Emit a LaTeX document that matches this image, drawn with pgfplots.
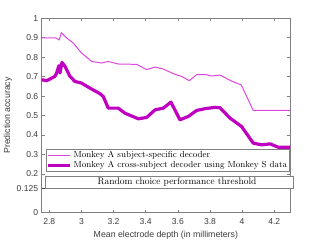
\documentclass[border=0pt]{standalone}
\usepackage{fontspec}
\setsansfont{Liberation Sans}
\usepackage{pgfplots}
\pgfplotsset{compat=1.18}
\definecolor{thinc}{RGB}{222,70,222}
\definecolor{thickc}{RGB}{192,0,192}
\definecolor{axgray}{RGB}{128,128,128}
\definecolor{txtgray}{RGB}{60,60,60}
\begin{document}
\begin{tikzpicture}
\begin{axis}[
  name=ax,
  scale only axis,
  width=248.3bp, height=194.4bp,
  xmin=2.753, xmax=4.298,
  ymin=0, ymax=1,
  xtick={2.8,3,3.2,3.4,3.6,3.8,4,4.2},
  xticklabels={2.8,3,3.2,3.4,3.6,3.8,4,4.2},
  ytick={0,0.125,0.2,0.3,0.4,0.5,0.6,0.7,0.8,0.9,1},
  yticklabels={0,0.125,0.2,0.3,0.4,0.5,0.6,0.7,0.8,0.9,1},
  tick align=inside,
  major tick length=3bp,
  axis line style={axgray, line width=0.6bp},
  every tick/.style={axgray, line width=0.5bp},
  tick label style={font=\sffamily\fontsize{8.6}{9}\selectfont, text=txtgray},
  xticklabel style={yshift=-2bp},
  /pgf/number format/assume math mode=true,
  xlabel={Mean electrode depth (in millimeters)},
  ylabel={Prediction accuracy},
  label style={font=\sffamily\fontsize{8.8}{10}\selectfont, text=txtgray},
  xlabel style={yshift=0bp},
  ylabel style={yshift=-2bp},
  legend style={at={(rel axis cs:0.017,0.328)}, anchor=north west,
    draw=axgray, line width=0.5bp, font=\fontsize{8.8}{9.5}\selectfont,
    inner sep=0.3bp, row sep=-2bp, legend cell align=left},
  legend image code/.code={\draw[#1] (0bp,0bp) -- (22bp,0bp);},
  clip=false,
]
\addplot[thinc, line width=1bp] coordinates {
(2.753,0.899) (2.84,0.899) (2.862,0.889) (2.875,0.926) (2.908,0.899)
(2.949,0.873) (3.0,0.822) (3.064,0.778) (3.126,0.770) (3.167,0.778)
(3.229,0.765) (3.344,0.763) (3.406,0.736) (3.458,0.749) (3.51,0.739)
(3.572,0.715) (3.624,0.701) (3.671,0.679) (3.717,0.71) (3.779,0.71)
(3.81,0.703) (3.862,0.708) (3.935,0.677) (3.995,0.657) (4.069,0.526)
(4.298,0.526)};
\addlegendentry{Monkey A subject-specific decoder}
\addplot[thickc, line width=3.2bp, line join=round] coordinates {
(2.753,0.684) (2.784,0.679) (2.835,0.701) (2.846,0.719) (2.86,0.756)
(2.867,0.719) (2.879,0.773) (2.898,0.753) (2.929,0.701) (2.96,0.675)
(3.0,0.667) (3.053,0.641) (3.116,0.612) (3.136,0.598) (3.167,0.538)
(3.229,0.538) (3.271,0.512) (3.354,0.483) (3.406,0.49) (3.458,0.529)
(3.51,0.538) (3.557,0.569) (3.613,0.478) (3.665,0.495) (3.717,0.526)
(3.769,0.535) (3.831,0.542) (3.862,0.54) (3.924,0.487) (3.997,0.443)
(4.069,0.358) (4.122,0.349) (4.173,0.354) (4.225,0.337) (4.298,0.337)};
\addlegendentry{Monkey A cross-subject decoder using Monkey S data}
\addplot[txtgray, line width=0.7bp, forget plot] coordinates {(2.753,0.125) (4.298,0.125)};
\draw[axgray, line width=0.5bp, fill=white] (axis cs:2.773,0.125) rectangle (axis cs:4.316,0.189);
\node[font=\fontsize{9.5}{10}\selectfont, anchor=center] at (axis cs:3.595,0.157) {Random choice performance threshold};
\end{axis}
\path ([shift={(-41.7bp,-28.3bp)}]ax.south west) rectangle ([shift={(31bp,18.3bp)}]ax.north east);
\end{tikzpicture}
\end{document}
